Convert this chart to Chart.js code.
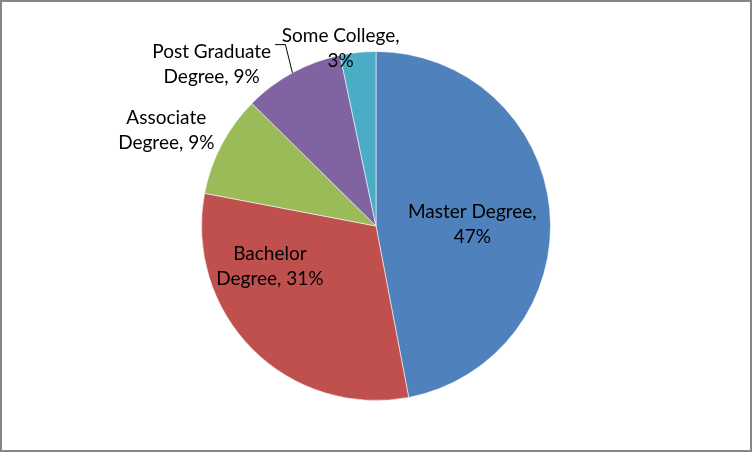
<!DOCTYPE html>
<html>
<head>
<meta charset="utf-8">
<script src="https://cdn.jsdelivr.net/npm/chart.js@4/dist/chart.umd.min.js"></script>
<style>
  html, body { margin: 0; padding: 0; background: #fff; }
  #wrap { width: 752px; height: 452px; position: relative; }
</style>
</head>
<body>
<div id="wrap"><canvas id="pieChart" width="752" height="452"></canvas></div>
<script>
// datos del gráfico (porcentajes)
const categorias = ['Master Degree', 'Bachelor Degree', 'Associate Degree', 'Post Graduate Degree', 'Some College'];
const valores = [47, 31, 9.4, 9.3, 3.3];
// texto de cada etiqueta, partido en líneas como en el original
const lineasEtiqueta = [
    ['Master Degree,', '47%'],
    ['Bachelor', 'Degree, 31%'],
    ['Associate', 'Degree, 9%'],
    ['Post Graduate', 'Degree, 9%'],
    ['Some College,', '3%']
];
const colores = ['#4F81BD', '#C0504D', '#9BBB59', '#8064A2', '#4BACC6'];

// colocación de etiquetas: giro (grados) respecto al centro del sector y radio relativo
const etiquetaGiro = [4.2, 24.3, -3.3, -16.9, -5.3];
const etiquetaRadio = [0.552, 0.65, 1.32, 1.32, 1.037];
const conLinea = [false, false, false, true, false];

const FUENTE = '19px Lato';
const ALTO_LINEA = 25;

// marco gris alrededor de todo el gráfico
const marcoPlugin = {
    id: 'marco',
    beforeDraw(chart) {
        const ctx = chart.ctx;
        ctx.save();
        ctx.fillStyle = '#ffffff';
        ctx.fillRect(0, 0, chart.width, chart.height);
        ctx.restore();
    },
    afterDraw(chart) {
        const ctx = chart.ctx;
        ctx.save();
        ctx.strokeStyle = '#868686';
        ctx.lineWidth = 2;
        ctx.strokeRect(1, 1, chart.width - 2, chart.height - 2);
        ctx.restore();
    }
};

// etiquetas de datos dibujadas a mano (no hay plugin datalabels)
const etiquetasPlugin = {
    id: 'etiquetas',
    afterDatasetsDraw(chart) {
        const ctx = chart.ctx;
        const arcos = chart.getDatasetMeta(0).data;
        ctx.save();
        ctx.font = FUENTE;
        ctx.fillStyle = '#000';
        ctx.textAlign = 'center';
        ctx.textBaseline = 'middle';
        arcos.forEach((arco, i) => {
            const p = arco.getProps(['x', 'y', 'startAngle', 'endAngle', 'outerRadius'], true);
            const medio = (p.startAngle + p.endAngle) / 2;
            const ang = medio + etiquetaGiro[i] * Math.PI / 180;
            const r = p.outerRadius * etiquetaRadio[i];
            const cx = p.x + Math.cos(ang) * r;
            const cy = p.y + Math.sin(ang) * r;
            const lineas = lineasEtiqueta[i];
            const y0 = cy - (lineas.length - 1) * ALTO_LINEA / 2;
            lineas.forEach((t, k) => ctx.fillText(t, cx, y0 + k * ALTO_LINEA));

            if (conLinea[i]) {
                const ancho = ctx.measureText(lineas[0]).width;
                const ax = p.x + Math.cos(medio) * p.outerRadius;
                const ay = p.y + Math.sin(medio) * p.outerRadius;
                const codoX = ax - 7;
                const codoY = y0 - 8;
                ctx.beginPath();
                ctx.strokeStyle = '#000';
                ctx.lineWidth = 1;
                ctx.moveTo(cx + ancho / 2 + 4, codoY + 0.5);
                ctx.lineTo(codoX, codoY + 0.5);
                ctx.lineTo(ax, ay);
                ctx.stroke();
            }
        });
        ctx.restore();
    }
};

new Chart(document.getElementById('pieChart'), {
    type: 'pie',
    data: {
        labels: categorias,
        datasets: [{
            data: valores,
            backgroundColor: colores,
            borderColor: 'rgba(255,255,255,0.55)',
            borderWidth: 1
        }]
    },
    options: {
        responsive: false,
        animation: false,
        layout: { padding: { top: 51, bottom: 51 } },
        plugins: {
            legend: { display: false },
            tooltip: { enabled: false }
        }
    },
    plugins: [marcoPlugin, etiquetasPlugin]
});
</script>
</body>
</html>
